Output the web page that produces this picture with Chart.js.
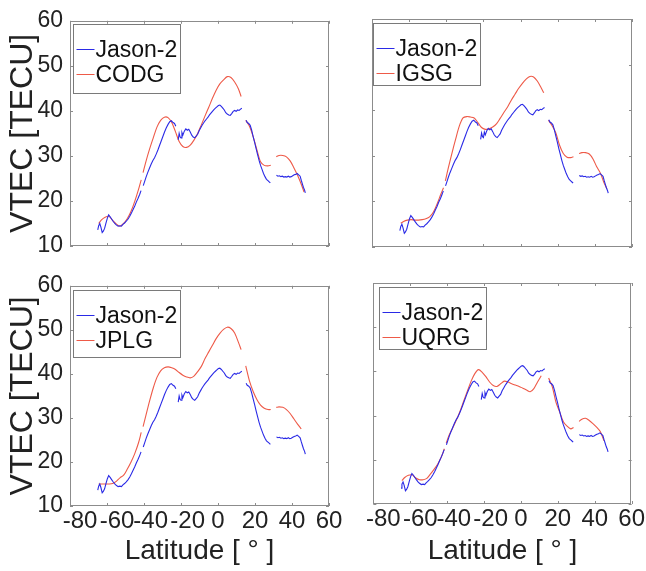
<!DOCTYPE html>
<html>
<head>
<meta charset="utf-8">
<title>VTEC vs latitude</title>
<script src="https://cdn.jsdelivr.net/npm/chart.js@4.4.1/dist/chart.umd.min.js"></script>
<style>
  html, body { margin: 0; padding: 0; background: #fff; }
  #fig { position: relative; width: 646px; height: 571px; overflow: hidden; background: #fff; }
  #fig canvas { position: absolute; }
</style>
</head>
<body>
<div id="fig">
  <canvas id="c-codg" width="345" height="270" style="left:0;top:0"></canvas>
  <canvas id="c-igsg" width="301" height="270" style="left:345px;top:0"></canvas>
  <canvas id="c-jplg" width="345" height="306" style="left:0;top:265px"></canvas>
  <canvas id="c-uqrg" width="301" height="306" style="left:345px;top:265px"></canvas>
</div>
<script>
/* VTEC along a Jason-2 pass vs. four GIM products (2x2 panels) */

/* ── Data ──────────────────────────────────────────────────────────────── */

// Jason-2 altimeter VTEC (null = data gap)
var jasonLat = [-65.0, -64.5, -63.9, -63.3, -62.6, -62.0, -61.3, -60.6, -59.8, -59.1,
  -58.3, -57.5, -56.7, -55.8, -55.0, -54.0, -53.0, -52.2, -51.4, -50.5,
  -49.6, -48.6, -47.7, -46.8, -45.9, -45.0, -44.1, -43.2, -42.3, -41.6,
  -41.0, -40.4, -39.6, -38.8, -38.0, -37.0, -36.1, -35.2, -34.3, -33.4,
  -32.5, -31.6, -30.7, -29.8, -28.9, -28.0, -27.0, -26.1, -25.2, -24.3,
  -23.5, -22.8, -22.2, -21.5, -21.0, -20.5, -20.0, -19.5, -19.0, -18.2,
  -17.4, -16.6, -15.8, -15.0, -14.2, -13.4, -12.6, -11.8, -11.0, -10.2,
  -9.4, -8.6, -7.8, -7.0, -6.2, -5.4, -4.6, -3.8, -3.0, -2.2,
  -1.4, -0.6, 0.2, 1.0, 1.8, 2.6, 3.4, 4.2, 5.0, 5.8,
  6.6, 7.4, 8.2, 9.0, 9.8, 10.6, 11.4, 12.2, 12.9, 13.6,
  15.2, 15.8, 16.6, 17.4, 18.2, 19.0, 19.8, 20.6, 21.4, 22.2,
  23.0, 23.8, 24.6, 25.4, 26.2, 27.0, 27.8, 28.3, 30.0, 31.6,
  32.4, 33.2, 34.0, 34.8, 35.6, 36.4, 37.2, 38.0, 38.8, 39.6,
  40.4, 41.2, 42.0, 42.8, 43.6, 44.4, 45.0, 45.6, 46.2, 46.8,
  47.2];
var jasonTec = [13.6, 14.5, 15.0, 14.2, 13.0, 13.3, 13.9, 15.0, 16.2, 16.9,
  16.5, 16.0, 15.5, 15.0, 14.7, 14.4, 14.5, 14.4, 14.8, 15.1,
  15.5, 16.0, 16.6, 17.3, 18.1, 18.9, 19.8, 20.6, 21.5, 22.3,
  null, 23.4, 24.4, 25.4, 26.3, 27.3, 28.2, 29.0, 29.6, 30.4,
  31.3, 32.3, 33.3, 34.3, 35.3, 36.2, 37.0, 37.6, 37.8, 37.4,
  37.2, 36.6, null, 33.6, 35.0, 34.2, 34.0, 35.2, 34.6, 35.5,
  36.0, 35.7, 35.9, 35.3, 34.6, 34.2, 34.0, 34.4, 34.8, 35.6,
  36.2, 36.8, 37.3, 37.8, 38.2, 38.6, 39.1, 39.5, 39.9, 40.3,
  40.6, 40.9, 41.2, 41.3, 41.0, 40.6, 40.2, 39.6, 39.3, 39.1,
  39.0, 39.4, 39.9, 40.1, 39.9, 40.2, 40.1, 40.4, 40.6, null,
  37.9, 37.4, 37.2, 36.8, 35.7, 34.3, 33.0, 31.6, 30.3, 29.0,
  27.9, 27.0, 26.1, 25.4, 24.8, 24.5, 24.2, 24.0, null, 25.7,
  25.5, 25.6, 25.4, 25.5, 25.3, 25.4, 25.3, 25.5, 25.3, 25.4,
  25.6, 25.8, 25.9, 26.1, 25.8, 25.5, 24.6, 23.8, 23.0, 22.4,
  21.8];

// GIM values sampled along the same track (null = data gap)
var modelLat = [-64.5, -63, -61, -59, -57, -55, -53, -51, -49, -47,
  -45, -43, -41.5, -41, -40.5, -39, -37, -35, -33, -31,
  -29, -27, -25, -23, -21, -19, -17, -15, -13, -11,
  -9, -7, -5, -3, -1, 1, 3, 5, 7, 9,
  11, 12.5, 14, 15, 17, 19, 21, 23, 25, 27,
  28.5, 30, 31.5, 33, 35, 37, 39, 41, 43, 45,
  46.5];
var codgTec = [15.0, 15.8, 16.4, 16.6, 15.7, 14.9, 14.4, 15.0, 16.1, 17.7,
  19.9, 22.5, 24.7, null, 26.3, 28.7, 31.5, 34.0, 36.4, 37.9,
  38.6, 38.5, 37.4, 35.4, 33.2, 32.1, 31.9, 32.4, 33.5, 35.0,
  36.9, 38.9, 40.8, 42.8, 44.6, 46.0, 46.9, 47.6, 47.4, 46.4,
  44.9, 43.2, null, 37.9, 36.6, 34.3, 31.4, 28.7, 27.9, 27.8,
  27.9, null, 29.8, 30.1, 30.1, 29.8, 28.9, 27.4, 25.7, 23.7,
  22.0];
var igsgTec = [15.2, 15.6, 15.9, 16.0, 15.9, 15.9, 16.0, 16.2, 16.6, 17.6,
  19.4, 21.5, 23.0, null, 24.5, 27.2, 30.5, 33.6, 36.5, 38.3,
  38.6, 38.5, 38.3, 37.3, 36.2, 35.8, 35.9, 36.3, 37.0, 38.2,
  39.5, 40.7, 42.2, 43.5, 44.8, 45.9, 46.8, 47.4, 47.3, 46.4,
  45.0, 43.8, null, 37.8, 36.6, 35.0, 32.3, 30.5, 29.7, 29.6,
  29.8, null, 30.5, 30.7, 30.7, 30.4, 29.3, 27.6, 26.2, 24.0,
  22.8];
var jplgTec = [15.0, 15.0, 15.0, 15.0, 15.1, 15.6, 16.4, 17.0, 18.4, 20.0,
  21.9, 24.3, 26.7, null, 28.0, 30.5, 33.8, 36.8, 39.2, 40.7,
  41.4, 41.6, 41.4, 41.0, 40.3, 39.7, 39.3, 39.1, 39.5, 40.5,
  41.7, 43.5, 45.0, 46.5, 48.0, 49.2, 50.1, 50.6, 50.3, 49.3,
  47.2, 45.5, null, 41.8, 38.4, 36.0, 34.2, 32.9, 32.2, 31.9,
  31.9, null, 32.4, 32.5, 32.4, 31.9, 31.0, 29.8, 28.6, 27.5,
  null];
var uqrgTec = [15.3, 16.0, 16.5, 16.6, 15.9, 15.5, 15.5, 15.8, 16.8, 17.9,
  19.1, 20.8, 22.5, null, 23.8, 25.5, 27.2, 29.0, 31.0, 33.3,
  35.6, 37.8, 39.5, 40.4, 39.8, 38.8, 37.6, 36.8, 36.6, 37.2,
  37.8, 37.6, 37.2, 36.9, 36.6, 36.2, 35.8, 35.4, 36.1, 37.6,
  39.0, null, null, 38.5, 36.5, 33.0, 30.8, 28.6, 27.6, 27.0,
  27.3, null, 28.7, 29.2, 29.4, 28.9, 28.2, 27.4, 26.4, 24.3,
  null];

/* ── Styles ────────────────────────────────────────────────────────────── */

var FONT       = '"Liberation Sans", Arial, Helvetica, sans-serif';
var TEXT_COL   = '#222222';
var BOX_COL    = '#8c8c8c';
var JASON_COL  = '#2a2ae6';
var MODEL_COL  = '#ee5a48';

/* ── Plugins: MATLAB-like box with inward ticks, boxed legend ──────────── */

var matlabBox = {
  id: 'matlabBox',
  afterDatasetsDraw: function (chart) {
    var ctx = chart.ctx, a = chart.chartArea;
    var sx = chart.scales.x, sy = chart.scales.y;
    var tl = 3;
    ctx.save();
    ctx.strokeStyle = BOX_COL;
    ctx.lineWidth = 1;
    ctx.strokeRect(Math.round(a.left) + 0.5, Math.round(a.top) + 0.5,
                   Math.round(a.width) - 1, Math.round(a.height) - 1);
    ctx.beginPath();
    sx.ticks.forEach(function (t) {
      var px = Math.round(sx.getPixelForValue(t.value)) + 0.5;
      ctx.moveTo(px, a.bottom); ctx.lineTo(px, a.bottom - tl);
      ctx.moveTo(px, a.top);    ctx.lineTo(px, a.top + tl);
    });
    sy.ticks.forEach(function (t) {
      var py = Math.round(sy.getPixelForValue(t.value)) + 0.5;
      ctx.moveTo(a.left, py);  ctx.lineTo(a.left + tl, py);
      ctx.moveTo(a.right, py); ctx.lineTo(a.right - tl, py);
    });
    ctx.stroke();
    ctx.restore();
  }
};

var boxLegend = {
  id: 'boxLegend',
  afterDraw: function (chart, args, opts) {
    var ctx = chart.ctx, a = chart.chartArea;
    var x0 = Math.round(a.left + opts.dx) + 0.5;
    var y0 = Math.round(a.top + opts.dy) + 0.5;
    ctx.save();
    ctx.font = opts.size + 'px ' + FONT;
    var textW = 0;
    chart.data.datasets.forEach(function (d) {
      textW = Math.max(textW, ctx.measureText(d.label).width);
    });
    var w = Math.round(22 + textW + 3);
    ctx.fillStyle = '#ffffff';
    ctx.fillRect(x0, y0, w, opts.h);
    ctx.strokeStyle = '#7a7a7a';
    ctx.lineWidth = 1;
    ctx.strokeRect(x0, y0, w, opts.h);
    ctx.textBaseline = 'middle';
    ctx.textAlign = 'left';
    chart.data.datasets.forEach(function (d, i) {
      var yy = Math.round(y0 + opts.row0 + i * opts.rowGap) + 0.5;
      ctx.strokeStyle = d.borderColor;
      ctx.beginPath();
      ctx.moveTo(x0 + 3, yy);
      ctx.lineTo(x0 + 21, yy);
      ctx.stroke();
      ctx.fillStyle = '#111111';
      ctx.fillText(d.label, x0 + 22, yy + 1);
    });
    ctx.restore();
  }
};

/* ── Panels ────────────────────────────────────────────────────────────── */

// page rectangle of each canvas, and of its axes box
var panels = [
  { id: 'c-codg', name: 'CODG', tec: codgTec, left: 0,   top: 0,   w: 345, h: 270,
    area: { l: 70,  t: 15,  r: 329, b: 246 }, yLab: true,  xLab: false, lg: { dx: 3, dy: 3, h: 69 } },
  { id: 'c-igsg', name: 'IGSG', tec: igsgTec, left: 345, top: 0,   w: 301, h: 270,
    area: { l: 372, t: 19,  r: 632, b: 247 }, yLab: false, xLab: false, lg: { dx: 1, dy: 4, h: 62 } },
  { id: 'c-jplg', name: 'JPLG', tec: jplgTec, left: 0,   top: 265, w: 345, h: 306,
    area: { l: 70,  t: 283, r: 329, b: 506 }, yLab: true,  xLab: true,  lg: { dx: 3, dy: 4, h: 67 } },
  { id: 'c-uqrg', name: 'UQRG', tec: uqrgTec, left: 345, top: 265, w: 301, h: 306,
    area: { l: 373, t: 283, r: 632, b: 504 }, yLab: false, xLab: true,  lg: { dx: 6, dy: 4, h: 62 } }
];

function _points(xs, ys) {
  return xs.map(function (x, i) { return { x: x, y: ys[i] }; });
}

function _xTick(v) {
  // MATLAB sets the negative labels slightly right of their ticks
  if (v <= -60) return '   ' + v;
  if (v < 0) return '  ' + v;
  return String(v);
}

panels.forEach(function (p) {
  var yWidth  = p.area.l - p.left;
  var xHeight = p.top + p.h - p.area.b;

  new Chart(document.getElementById(p.id), {
    type: 'scatter',
    data: {
      datasets: [
        { label: 'Jason-2', data: _points(jasonLat, jasonTec), showLine: true,
          borderColor: JASON_COL, borderWidth: 1.1, pointRadius: 0, spanGaps: false, tension: 0 },
        { label: p.name, data: _points(modelLat, p.tec), showLine: true,
          borderColor: MODEL_COL, borderWidth: 1.1, pointRadius: 0, spanGaps: false, tension: 0.3 }
      ]
    },
    options: {
      responsive: false,
      animation: false,
      devicePixelRatio: 1,
      layout: { padding: { left: 0, top: p.area.t - p.top, right: p.left + p.w - p.area.r, bottom: 0 } },
      plugins: {
        legend: { display: false },
        tooltip: { enabled: false },
        boxLegend: { dx: p.lg.dx, dy: p.lg.dy, h: p.lg.h, row0: 24, rowGap: 25, size: 23 }
      },
      scales: {
        x: {
          type: 'linear', min: -80, max: 60,
          grid: { display: false, drawTicks: false }, border: { display: false },
          ticks: { display: p.xLab, stepSize: 20, autoSkip: false, maxRotation: 0, minRotation: 0,
                   padding: 1, color: TEXT_COL, font: { family: FONT, size: 24 }, callback: _xTick },
          title: { display: p.xLab, text: 'Latitude [ ° ]', color: TEXT_COL,
                   font: { family: FONT, size: 28 }, padding: { top: 0, bottom: 3 } },
          afterFit: function (s) { s.height = xHeight; }
        },
        y: {
          type: 'linear', min: 10, max: 60,
          grid: { display: false, drawTicks: false }, border: { display: false },
          ticks: { display: p.yLab, stepSize: 10, padding: 7, color: TEXT_COL,
                   font: { family: FONT, size: 23 } },
          title: { display: p.yLab, text: 'VTEC [TECU]', color: TEXT_COL,
                   font: { family: FONT, size: 32 }, padding: { top: 4, bottom: 0 } },
          afterFit: function (s) { s.width = yWidth; }
        }
      }
    },
    plugins: [matlabBox, boxLegend]
  });
});
</script>
</body>
</html>
